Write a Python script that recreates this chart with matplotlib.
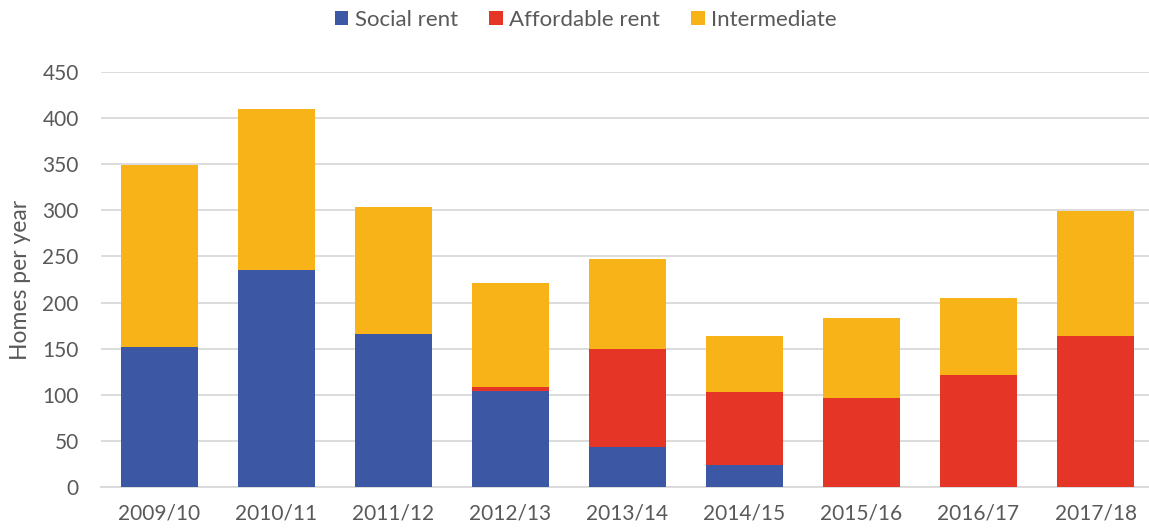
import numpy as np
import matplotlib.pyplot as plt

plt.rcParams['font.family'] = ['Lato', 'DejaVu Sans']

# ============================================
# DATEN
# ============================================
years = ["2009/10", "2010/11", "2011/12", "2012/13", "2013/14",
         "2014/15", "2015/16", "2016/17", "2017/18"]
social = [152, 235, 166, 104, 43, 24, 0, 0, 0]
affordable = [0, 0, 0, 4, 107, 79, 96, 121, 164]
intermediate = [197, 175, 138, 113, 97, 61, 87, 84, 135]

c_social = "#3c57a3"
c_afford = "#e43526"
c_inter = "#f8b318"
grey = "#595959"

# ============================================
# PLOT
# ============================================
fig = plt.figure(figsize=(11.49, 5.31), dpi=100)
ax = fig.add_axes([101 / 1149, 1 - 487 / 531, 1048 / 1149, 415 / 531])

x = np.arange(len(years))
w = 0.665
social = np.array(social)
affordable = np.array(affordable)
intermediate = np.array(intermediate)

ax.bar(x, social, w, color=c_social, label="Social rent", zorder=3)
ax.bar(x, affordable, w, bottom=social, color=c_afford, label="Affordable rent", zorder=3)
ax.bar(x, intermediate, w, bottom=social + affordable, color=c_inter,
       label="Intermediate", zorder=3)

ax.set_xlim(-0.5, 8.457)
ax.set_ylim(0, 450)
ax.set_yticks(np.arange(0, 451, 50))
ax.set_xticks(x)
ax.set_xticklabels(years)
ax.grid(axis="y", color="#d9d9d9", linewidth=1.3, zorder=0)
ax.tick_params(length=0, labelsize=15, colors=grey)
ax.tick_params(axis="y", pad=16)
ax.tick_params(axis="x", pad=12)
for s in ["top", "right", "left"]:
    ax.spines[s].set_visible(False)
ax.spines["bottom"].set_color("#d9d9d9")
ax.spines["bottom"].set_linewidth(1.3)

ax.set_ylabel("Homes per year", fontsize=16.5, color=grey, labelpad=8)

# Legende oben
fig.legend(*ax.get_legend_handles_labels(), loc="center",
           bbox_to_anchor=(586 / 1149, 1 - 20 / 531), ncol=3, frameon=False,
           fontsize=16, labelcolor=grey, handlelength=0.6, handleheight=0.6,
           handletextpad=0.3, columnspacing=1.4)

plt.savefig("out.png", dpi=100)
